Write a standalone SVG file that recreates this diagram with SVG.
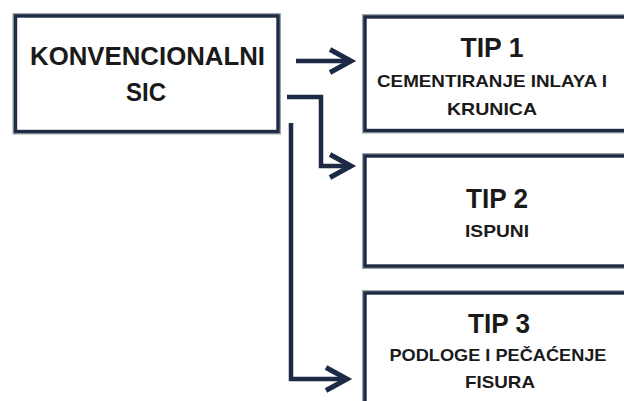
<svg xmlns="http://www.w3.org/2000/svg" width="624" height="401" viewBox="0 0 624 401">
  <style>
    .shadow { fill: none; stroke: #9da2aa; stroke-width: 6; }
    .box { fill: #ffffff; stroke: #1d2b44; stroke-width: 3.4; }
    .t { font-family: "Liberation Sans", Arial, sans-serif; font-weight: bold; fill: #1a1a1a; text-anchor: middle; }
    .big { font-size: 26px; }
    .tip { font-size: 28px; }
    .small { font-size: 17px; }
    .conn { fill: none; stroke: #1c2a45; stroke-width: 4.5; stroke-linejoin: miter; }
  </style>
  <defs>
    <marker id="chev" markerUnits="userSpaceOnUse" viewBox="-26 -16 30 32" refX="0" refY="0" markerWidth="30" markerHeight="32" orient="auto" overflow="visible">
      <path d="M-21,-11.5 L0,0 L-21,11.5" fill="none" stroke="#1c2a45" stroke-width="5" stroke-linejoin="miter"/>
    </marker>
  </defs>
  <rect width="624" height="401" fill="#ffffff"/>

  <g id="konvencionalni-sic">
    <rect class="shadow" x="15.5" y="16" width="262.5" height="115.5"/>
    <rect class="box" x="15.5" y="16" width="262.5" height="115.5"/>
    <text class="t big" x="147.5" y="65" textLength="235" lengthAdjust="spacingAndGlyphs">KONVENCIONALNI</text>
    <text class="t big" x="146" y="101" textLength="40" lengthAdjust="spacingAndGlyphs">SIC</text>
  </g>

  <g id="tip1">
    <rect class="shadow" x="365" y="17" width="270" height="113.5"/>
    <rect class="box" x="365" y="17" width="270" height="113.5"/>
    <text class="t tip" x="492" y="57" textLength="63" lengthAdjust="spacingAndGlyphs">TIP 1</text>
    <text class="t small" x="492" y="87" textLength="230" lengthAdjust="spacingAndGlyphs">CEMENTIRANJE INLAYA I</text>
    <text class="t small" x="492" y="115" textLength="90" lengthAdjust="spacingAndGlyphs">KRUNICA</text>
  </g>

  <g id="tip2">
    <rect class="shadow" x="365" y="156" width="270" height="110"/>
    <rect class="box" x="365" y="156" width="270" height="110"/>
    <text class="t tip" x="497" y="208" textLength="62" lengthAdjust="spacingAndGlyphs">TIP 2</text>
    <text class="t small" x="497" y="237" textLength="64" lengthAdjust="spacingAndGlyphs">ISPUNI</text>
  </g>

  <g id="tip3">
    <rect class="shadow" x="365" y="293" width="270" height="130"/>
    <rect class="box" x="365" y="293" width="270" height="130"/>
    <text class="t tip" x="499" y="333" textLength="62" lengthAdjust="spacingAndGlyphs">TIP 3</text>
    <text class="t small" x="498" y="361" textLength="217" lengthAdjust="spacingAndGlyphs">PODLOGE I PEČAĆENJE</text>
    <text class="t small" x="500" y="388" textLength="70" lengthAdjust="spacingAndGlyphs">FISURA</text>
  </g>

  <g id="connectors">
    <path class="conn" d="M296,61 H351" marker-end="url(#chev)"/>
    <path class="conn" d="M287,97 H321 V166 H351" marker-end="url(#chev)"/>
    <path class="conn" d="M291,123 V379 H347" marker-end="url(#chev)"/>
  </g>
</svg>
